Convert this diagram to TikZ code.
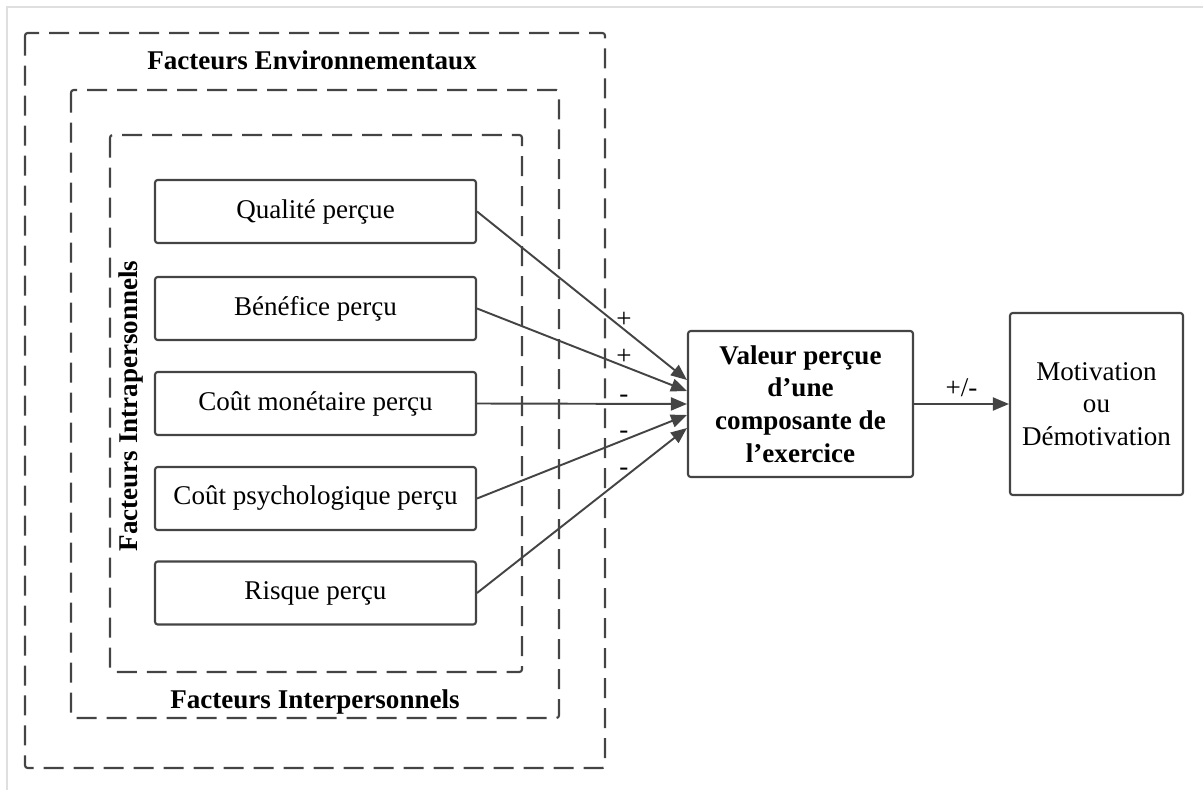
\documentclass[tikz,border=0pt]{standalone}
\usepackage{fontspec}
\setmainfont{Liberation Serif}
\usetikzlibrary{arrows.meta,positioning}
\definecolor{linegray}{HTML}{444444}

\begin{document}
\begin{tikzpicture}[x=0.02cm, y=-0.02cm,
		font=\fontsize{15.4}{18.6}\selectfont,
		factor/.style={draw=linegray, line width=1.2pt, rounded corners=1.5pt, minimum width=6.42cm, minimum height=1.26cm},
		dashbox/.style={draw=linegray, line width=1.2pt, dash pattern=on 0.4cm off 0.2cm, rounded corners=1.5pt},
		arr/.style={-{Triangle[length=0.32cm, width=0.26cm]}, draw=linegray, line width=1.1pt},
		sign/.style={pos=0.7, above, yshift=-3pt}]
		\useasboundingbox (0,0) rectangle (1203,790);
		\draw[gray!25, line width=0.8pt] (7,790) -- (7,7) -- (1203,7);

		% nested environments
		\draw[dashbox] (25,33) rectangle (605,768);
		\draw[dashbox] (71,90) rectangle (559,718);
		\draw[dashbox] (110,135) rectangle (522,672);
		\node[anchor=base, font=\fontsize{15.4}{18.6}\selectfont\bfseries] (env) at (312, 70) {Facteurs Environnementaux};
		\node[anchor=base, font=\fontsize{15.4}{18.6}\selectfont\bfseries] (inter) at (315, 708) {Facteurs Interpersonnels};
		\node[rotate=90, font=\fontsize{15.4}{18.6}\selectfont\bfseries] (intra) at (131, 406) {Facteurs Intrapersonnels};

		% perceived factors
		\node[factor] (qual) at (315.5, 211.5) {Qualité perçue};
		\node[factor] (bene) at (315.5, 308.5) {Bénéfice perçu};
		\node[factor] (mone) at (315.5, 403.5) {Coût monétaire perçu};
		\node[factor] (psych) at (315.5, 498.5) {Coût psychologique perçu};
		\node[factor] (risk) at (315.5, 593) {Risque perçu};

		\node[draw=linegray, line width=1.2pt, rounded corners=1.5pt, minimum width=4.5cm, minimum height=2.92cm, align=center, font=\fontsize{15.4}{18.6}\selectfont\bfseries] (val) at (800.5, 404) {Valeur perçue\\d’une\\composante de\\l’exercice};
		\node[draw=linegray, line width=1.2pt, rounded corners=1.5pt, minimum width=3.46cm, minimum height=3.64cm, align=center] (mot) at (1096.5, 404) {Motivation\\ou\\Démotivation};

		\draw[arr] (qual.east) -- ([yshift=0.48cm]val.west) node[sign]{+};
		\draw[arr] (bene.east) -- ([yshift=0.26cm]val.west) node[sign]{+};
		\draw[arr] (mone.east) -- (val.west) node[sign]{-};
		\draw[arr] (psych.east) -- ([yshift=-0.22cm]val.west) node[sign]{-};
		\draw[arr] (risk.east) -- ([yshift=-0.48cm]val.west) node[sign]{-};
		\draw[arr] (val.east) -- (mot.west) node[midway, above]{+/-};
	\end{tikzpicture}
\end{document}
